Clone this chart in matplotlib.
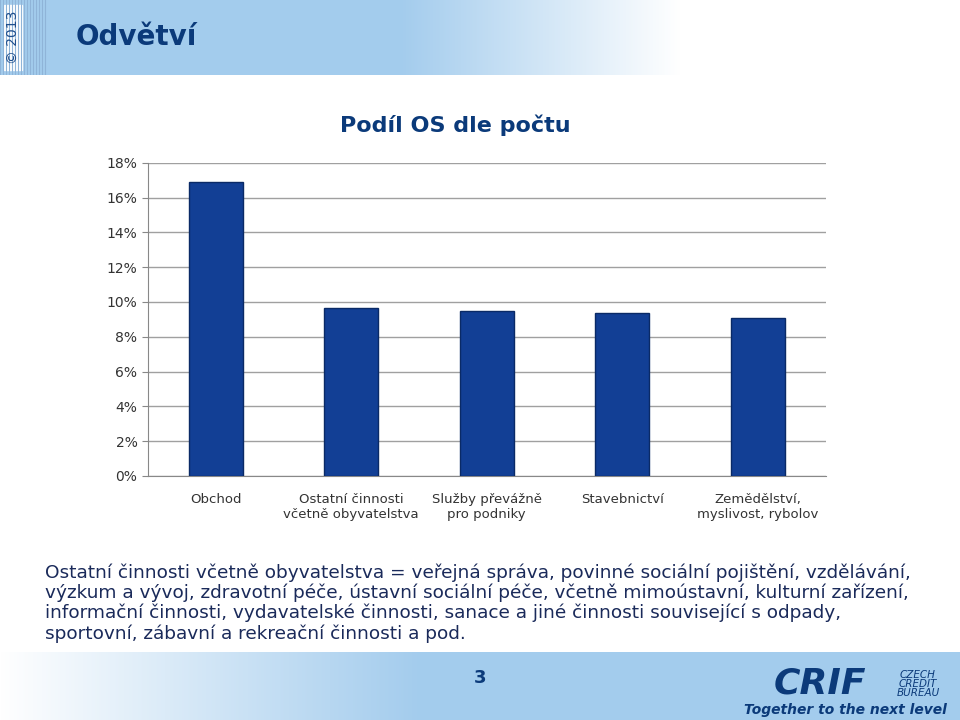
import matplotlib
matplotlib.use("Agg")
import matplotlib.pyplot as plt
import numpy as np
from matplotlib.patches import Rectangle

categories = ["Obchod", "Ostatní činnosti\nvčetně obyvatelstva", "Služby převážně\npro podniky",
              "Stavebnictví", "Zemědělství,\nmyslivost, rybolov"]
values = [16.9, 9.66, 9.5, 9.37, 9.1]
yticks = [0, 2, 4, 6, 8, 10, 12, 14, 16, 18]

fig = plt.figure(figsize=(9.6, 7.2), dpi=100)

# header gradient
hdr = fig.add_axes([0, 1 - 75/720, 1, 75/720])
hdr.set_axis_off()
grad = np.ones((1, 960, 3))
c0 = np.array([0.64, 0.80, 0.93])
for i in range(960):
    t = 0 if i < 400 else min(1, (i - 400) / 280)
    grad[0, i] = c0 * (1 - t) + np.array([1, 1, 1]) * t
hdr.imshow(grad, aspect="auto", extent=[0, 960, 0, 75])
hdr.set_xlim(0, 960); hdr.set_ylim(0, 75)
for x in range(0, 46, 3):
    hdr.plot([x, x], [0, 75], color="#8fb4d8", lw=0.8)
hdr.add_patch(Rectangle((4, 5), 18, 65, color="white"))
hdr.text(13, 38, "© 2013", rotation=90, ha="center", va="center", fontsize=10, color="#1f4e8c")
hdr.text(76, 38, "Odvětví", fontsize=20, fontweight="bold", color="#0b3a7a", va="center")

ax = fig.add_axes([0.154, 0.339, 0.706, 0.435])
x = np.arange(len(categories))
ax.bar(x, values, width=0.4, color="#123f95", edgecolor="#0a2a66", linewidth=1, zorder=3)
ax.set_xlim(-0.5, len(categories) - 0.5)
ax.set_ylim(0, 18)
ax.set_yticks(yticks)
ax.set_yticklabels([f"{v}%" for v in yticks], fontsize=10, color="#333333")
ax.yaxis.grid(True, color="#a0a0a0", lw=1, zorder=0)
ax.set_xticks(x)
ax.set_xticklabels(categories, fontsize=9.5, color="#333333")
ax.tick_params(axis="x", length=0, pad=12)
ax.tick_params(axis="y", length=4, color="#888888")
for s in ["top", "right"]:
    ax.spines[s].set_visible(False)
for s in ["left", "bottom"]:
    ax.spines[s].set_color("#888888")
fig.text(455/960, 1 - 125/720, "Podíl OS dle počtu", fontsize=16, fontweight="bold",
         color="#0b3a7a", ha="center", va="center")

fig.text(45/960, 1 - 603/720,
         "Ostatní činnosti včetně obyvatelstva = veřejná správa, povinné sociální pojištění, vzdělávání,\n"
         "výzkum a vývoj, zdravotní péče, ústavní sociální péče, včetně mimoústavní, kulturní zařízení,\n"
         "informační činnosti, vydavatelské činnosti, sanace a jiné činnosti související s odpady,\n"
         "sportovní, zábavní a rekreační činnosti a pod.",
         fontsize=13.3, color="#1a2a5a", va="center", linespacing=1.12)

# footer
ft = fig.add_axes([0, 0, 1, 68/720])
ft.set_axis_off()
g2 = np.ones((1, 960, 3))
for i in range(960):
    t = min(1, i / 420)
    g2[0, i] = np.array([1, 1, 1]) * (1 - t) + c0 * t
ft.imshow(g2, aspect="auto", extent=[0, 960, 0, 68])
ft.set_xlim(0, 960); ft.set_ylim(0, 68)
ft.text(480, 42, "3", ha="center", va="center", fontsize=13, fontweight="bold", color="#0b3a7a")
ft.text(820, 36, "CRIF", fontsize=26, fontweight="bold", fontstyle="italic", color="#0b3a7a", ha="center", va="center")
ft.text(918, 36, "CZECH\nCREDIT\nBUREAU", fontsize=7.5, fontstyle="italic", color="#0b3a7a", ha="center", va="center", linespacing=0.9)
ft.text(845, 10, "Together to the next level", fontsize=10, fontstyle="italic", fontweight="bold", color="#0b3a7a", ha="center", va="center")

fig.savefig("out.png", dpi=100)
